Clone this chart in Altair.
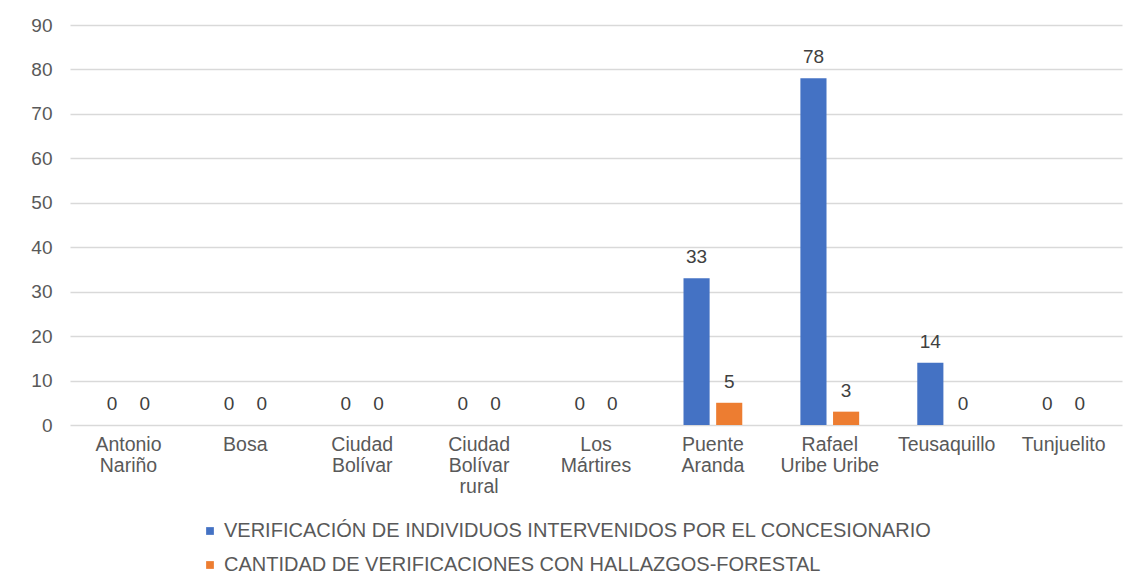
import altair as alt
import pandas as pd

categories = ["Antonio\nNariño", "Bosa", "Ciudad\nBolívar", "Ciudad\nBolívar\nrural",
              "Los\nMártires", "Puente\nAranda", "Rafael\nUribe Uribe", "Teusaquillo", "Tunjuelito"]
series = ["VERIFICACIÓN DE INDIVIDUOS INTERVENIDOS POR EL CONCESIONARIO",
          "CANTIDAD DE VERIFICACIONES CON HALLAZGOS-FORESTAL"]
verificacion = [0, 0, 0, 0, 0, 33, 78, 14, 0]
hallazgos = [0, 0, 0, 0, 0, 5, 3, 0, 0]
colors = ["#4472C4", "#ED7D31"]
y_ticks = [0, 10, 20, 30, 40, 50, 60, 70, 80, 90]

rows = []
for i, c in enumerate(categories):
    rows.append({"cat": c, "serie": series[0], "value": verificacion[i]})
    rows.append({"cat": c, "serie": series[1], "value": hallazgos[i]})
df = pd.DataFrame(rows)

FONT = "Liberation Sans"
W, H = 1052, 400

x = alt.X("cat:N", sort=categories, title=None,
          scale=alt.Scale(paddingInner=0, paddingOuter=0),
          axis=alt.Axis(labelAngle=0, labelExpr="split(datum.label, '\\n')",
                        labelFont=FONT, labelFontSize=19.5, labelColor="#595959",
                        labelLineHeight=21, labelPadding=10, ticks=False,
                        domain=False, grid=False, labelBaseline="top"))
xo = alt.XOffset("serie:N", sort=series,
                 scale=alt.Scale(paddingInner=0.2, paddingOuter=0.89))
y = alt.Y("value:Q", title=None,
          scale=alt.Scale(domain=[0, 90]),
          axis=alt.Axis(values=y_ticks, labelFont=FONT, labelFontSize=19,
                        labelColor="#595959", labelPadding=18, ticks=False,
                        domain=False, gridColor="#D9D9D9", gridWidth=1.3))

base = alt.Chart(df)
bars = base.mark_bar().encode(
    x=x, xOffset=xo, y=y,
    color=alt.Color("serie:N", sort=series,
                    scale=alt.Scale(domain=series, range=colors),
                    legend=alt.Legend(title=None, orient="none", legendX=130, legendY=496,
                                      direction="vertical", symbolType="square",
                                      symbolSize=60, symbolStrokeWidth=0,
                                      labelFont=FONT, labelFontSize=20, labelLimit=0,
                                      labelColor="#595959", rowPadding=14,
                                      labelOffset=4, padding=0))
)
labels = base.mark_text(font=FONT, fontSize=19, color="#404040",
                        baseline="middle", dy=-21).encode(
    x=x, xOffset=xo, y=y,
    text="value:Q"
)

chart = alt.layer(bars, labels).properties(
    width=W, height=H,
    background="white",
    autosize=alt.AutoSizeParams(type="none"),
    padding={"left": 62, "top": 17, "right": 8, "bottom": 154}
).configure_view(stroke=None, strokeWidth=0).configure_axis(domain=False).configure_axisX(grid=False)

chart.save("out.html", embed_options={"renderer": "svg", "actions": False})
